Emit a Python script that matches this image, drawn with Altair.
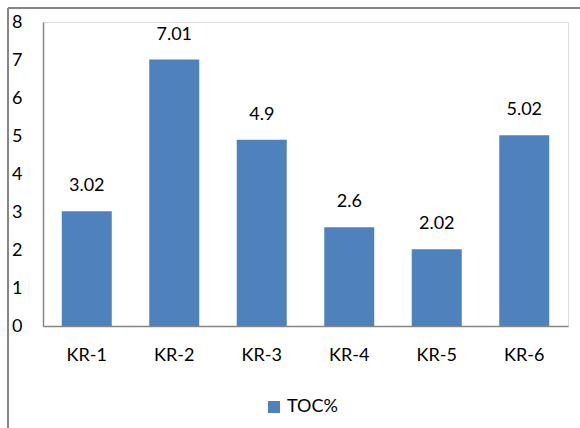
import altair as alt
import pandas as pd

categories = ["KR-1", "KR-2", "KR-3", "KR-4", "KR-5", "KR-6"]
toc_values = [3.02, 7.01, 4.9, 2.6, 2.02, 5.02]
series_name = "TOC%"
y_ticks = [0, 1, 2, 3, 4, 5, 6, 7, 8]

df = pd.DataFrame({"cat": categories, "toc": toc_values, "series": [series_name] * len(categories)})

FONT = "Lato"
AXIS_GRAY = "#868686"
BAR = "#4F81BD"

base = alt.Chart(df).encode(
    x=alt.X("cat:N", sort=categories, title=None,
            scale=alt.Scale(paddingInner=0.4286, paddingOuter=0.2143),
            axis=alt.Axis(labelAngle=0, ticks=False, domainColor=AXIS_GRAY, domainWidth=1.5,
                          labelFont=FONT, labelFontSize=18, labelColor="#000000", labelPadding=20)),
    y=alt.Y("toc:Q", title=None, scale=alt.Scale(domain=[0, 8], nice=False),
            axis=alt.Axis(values=y_ticks, grid=False, ticks=False, domainColor=AXIS_GRAY, domainWidth=1.5,
                          labelOverlap=False, labelFlush=False, labelBound=False,
                          labelFont=FONT, labelFontSize=18, labelColor="#000000", labelPadding=21)),
)

bars = base.mark_bar(color=BAR).encode(
    color=alt.Color("series:N", scale=alt.Scale(range=[BAR]),
                    legend=alt.Legend(title=None, orient="none", legendX=222, legendY=376,
                                      symbolType="square", symbolSize=144, symbolStrokeWidth=0,
                                      labelFont=FONT, labelFontSize=18, labelColor="#000000", labelOffset=4)),
)

labels = base.mark_text(font=FONT, fontSize=18, color="#000000", dy=-25, baseline="middle").encode(
    text=alt.Text("toc:Q"),
)

one = alt.Chart(pd.DataFrame({"a": [0]}))
frame_left = one.mark_rule(color=AXIS_GRAY, strokeWidth=2).encode(
    x=alt.value(-35), y=alt.value(-14), y2=alt.value(420))
frame_top = one.mark_rule(color=AXIS_GRAY, strokeWidth=2).encode(
    x=alt.value(-35), x2=alt.value(560), y=alt.value(-14))

chart = alt.layer(bars, labels, frame_left, frame_top).properties(
    width=525, height=304,
    padding={"left": 43, "top": 22, "right": 12, "bottom": 102},
    autosize=alt.AutoSizeParams(type="none"),
).configure_view(stroke=None).configure(background="#ffffff")

chart.save("out.html", embed_options={"renderer": "svg", "actions": False})
